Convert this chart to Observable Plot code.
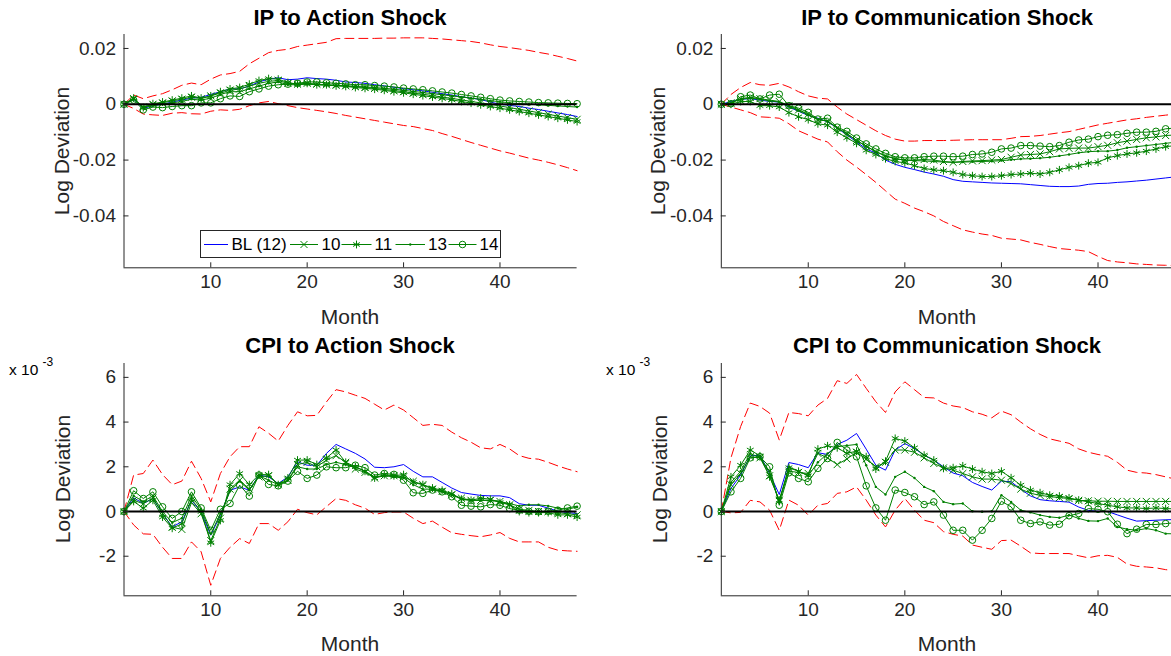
<!DOCTYPE html>
<html><head><meta charset="utf-8">
<script src="https://cdn.jsdelivr.net/npm/d3@7"></script>
<script src="https://cdn.jsdelivr.net/npm/@observablehq/plot@0.6"></script>
<style>
html,body{margin:0;padding:0;background:#fff;}
body{width:1171px;height:656px;overflow:hidden;position:relative;font-family:"Liberation Sans",Arial,Helvetica,sans-serif;}
.abs{position:absolute;white-space:nowrap;line-height:1;}
.title{font-weight:bold;font-size:22px;color:#000;transform:translate(-50%,-50%);}
.xlab{font-size:21px;color:#262626;transform:translate(-50%,-50%);}
.ylab{font-size:21px;color:#262626;transform:translate(-50%,-50%) rotate(-90deg);}
.expo{font-size:15.5px;color:#000;}
.expo sup{font-size:12px;position:relative;top:-3px;}
</style></head><body>
<script>
// ---------- data ----------
const months = [1,2,3,4,5,6,7,8,9,10,11,12,13,14,15,16,17,18,19,20,21,22,23,24,25,26,27,28,29,30,31,32,33,34,35,36,37,38,39,40,41,42,43,44,45,46,47,48];
const seriesLabels = ["BL (12)", "10", "11", "13", "14"];
const panelTitles = ["IP to Action Shock", "IP to Communication Shock", "CPI to Action Shock", "CPI to Communication Shock"];
const xTicks = [10, 20, 30, 40];
const ipYTicks = [-0.04, -0.02, 0, 0.02];
const ipYTickLabels = ["-0.04", "-0.02", "0", "0.02"];
const cpiYTicks = [-2, 0, 2, 4, 6];
const cpiYTickLabels = ["-2", "0", "2", "4", "6"];
const IP_UNIT = 0.01;   // IP values below are read in units of 0.01
const CPI_UNIT = 1;     // CPI values below are in units of 1e-3 (axis shows x 10^-3)

// IP to Action Shock
const ipActUpper = [0,0.33,0.2,0.3,0.38,0.52,0.68,0.76,0.7,0.9,1.05,1.1,1.18,1.45,1.65,1.85,1.93,1.97,2.07,2.12,2.17,2.22,2.35,2.36,2.36,2.36,2.36,2.37,2.37,2.38,2.38,2.38,2.36,2.34,2.31,2.28,2.25,2.2,2.13,2.07,2.03,1.98,1.93,1.86,1.8,1.72,1.64,1.55];
const ipActLower = [0,-0.15,-0.35,-0.38,-0.4,-0.32,-0.3,-0.34,-0.35,-0.25,-0.2,-0.22,-0.18,-0.05,0.05,0.1,0.02,-0.05,-0.12,-0.17,-0.22,-0.27,-0.33,-0.4,-0.46,-0.52,-0.58,-0.64,-0.7,-0.76,-0.8,-0.87,-0.94,-1.05,-1.15,-1.26,-1.37,-1.47,-1.57,-1.67,-1.75,-1.84,-1.93,-2.0,-2.08,-2.17,-2.27,-2.38];
const ipActBL = [0,0.18,-0.15,-0.05,0,0.08,0.15,0.22,0.25,0.35,0.45,0.55,0.55,0.65,0.8,0.9,0.95,0.88,0.9,0.95,0.92,0.9,0.86,0.8,0.78,0.75,0.7,0.66,0.61,0.56,0.52,0.48,0.43,0.38,0.33,0.27,0.22,0.17,0.08,0,-0.04,-0.08,-0.14,-0.19,-0.25,-0.31,-0.37,-0.44];
const ipAct10 = [0,0.2,-0.1,0,0.05,0.12,0.18,0.25,0.2,0.3,0.4,0.5,0.55,0.65,0.75,0.82,0.85,0.75,0.72,0.75,0.72,0.7,0.68,0.66,0.63,0.6,0.57,0.53,0.49,0.45,0.4,0.36,0.31,0.26,0.21,0.16,0.1,0.05,0,-0.06,-0.12,-0.18,-0.24,-0.3,-0.36,-0.42,-0.48,-0.54];
const ipAct11 = [0,0.22,-0.12,0.02,0.08,0.15,0.22,0.3,0.22,0.3,0.45,0.55,0.6,0.72,0.85,0.92,0.9,0.78,0.72,0.75,0.7,0.7,0.66,0.64,0.6,0.57,0.54,0.5,0.45,0.41,0.36,0.31,0.26,0.21,0.16,0.1,0.04,-0.02,-0.08,-0.14,-0.2,-0.26,-0.32,-0.38,-0.44,-0.5,-0.56,-0.62];
const ipAct13 = [0,0.2,-0.12,-0.05,0,0.05,0.1,0.18,0.15,0.22,0.35,0.45,0.45,0.55,0.65,0.75,0.8,0.7,0.7,0.72,0.7,0.68,0.67,0.66,0.64,0.62,0.6,0.57,0.54,0.5,0.46,0.42,0.38,0.34,0.3,0.26,0.22,0.18,0.13,0.09,0.05,0.02,0,-0.02,-0.04,-0.06,-0.08,-0.1];
const ipAct14 = [0,0.15,-0.2,-0.1,-0.12,-0.08,-0.05,-0.05,0.05,0.05,0.2,0.3,0.28,0.45,0.55,0.65,0.7,0.72,0.75,0.8,0.8,0.77,0.75,0.73,0.7,0.7,0.67,0.65,0.62,0.58,0.55,0.52,0.48,0.44,0.4,0.35,0.3,0.25,0.2,0.15,0.12,0.1,0.08,0.06,0.05,0.04,0.03,0.02];

// IP to Communication Shock
const ipComUpper = [0,0.35,0.6,0.78,0.7,0.68,0.75,0.62,0.45,0.3,0.22,0.19,-0.1,-0.35,-0.55,-0.75,-0.95,-1.12,-1.25,-1.32,-1.32,-1.3,-1.3,-1.3,-1.29,-1.28,-1.27,-1.27,-1.27,-1.27,-1.22,-1.16,-1.15,-1.12,-1.07,-1.02,-0.98,-0.9,-0.82,-0.74,-0.68,-0.62,-0.56,-0.52,-0.47,-0.43,-0.39,-0.35];
const ipComLower = [0,-0.1,-0.2,-0.3,-0.45,-0.47,-0.5,-0.7,-0.95,-1.1,-1.25,-1.35,-1.7,-2.0,-2.25,-2.52,-2.8,-3.1,-3.4,-3.55,-3.72,-3.85,-4.0,-4.2,-4.35,-4.5,-4.58,-4.65,-4.7,-4.8,-4.83,-4.86,-4.95,-5.02,-5.1,-5.17,-5.2,-5.23,-5.28,-5.45,-5.6,-5.65,-5.68,-5.72,-5.74,-5.76,-5.77,-5.78];
const ipComBL = [0,0.1,0.18,0.2,0.15,0.1,0.08,-0.1,-0.25,-0.4,-0.5,-0.63,-0.85,-1.1,-1.35,-1.6,-1.75,-2.0,-2.15,-2.26,-2.34,-2.43,-2.5,-2.58,-2.7,-2.76,-2.78,-2.8,-2.82,-2.83,-2.84,-2.85,-2.88,-2.91,-2.94,-2.95,-2.95,-2.93,-2.87,-2.84,-2.83,-2.8,-2.78,-2.75,-2.72,-2.68,-2.64,-2.6];
const ipCom10 = [0,0.05,0.2,0.25,0.2,0.15,0.1,-0.05,-0.2,-0.35,-0.55,-0.6,-0.85,-1.05,-1.3,-1.5,-1.7,-1.85,-1.95,-2.0,-2.0,-1.98,-2.0,-2.05,-2.08,-2.05,-2.03,-2.02,-2.0,-1.98,-1.9,-1.82,-1.8,-1.78,-1.7,-1.6,-1.58,-1.57,-1.57,-1.52,-1.47,-1.38,-1.32,-1.26,-1.2,-1.17,-1.12,-1.1];
const ipCom11 = [0,0,0.1,0.1,-0.05,-0.05,-0.1,-0.3,-0.45,-0.55,-0.7,-0.75,-1.0,-1.2,-1.4,-1.65,-1.8,-1.95,-2.05,-2.1,-2.2,-2.3,-2.35,-2.38,-2.44,-2.52,-2.56,-2.59,-2.59,-2.56,-2.52,-2.5,-2.47,-2.5,-2.44,-2.35,-2.26,-2.2,-2.11,-2.08,-1.92,-1.84,-1.78,-1.74,-1.68,-1.6,-1.52,-1.48];
const ipCom13 = [0,0.05,0.18,0.22,0.18,0.12,0.08,-0.08,-0.22,-0.38,-0.55,-0.6,-0.85,-1.05,-1.3,-1.5,-1.7,-1.85,-1.95,-2.0,-2.02,-2.03,-2.05,-2.07,-2.08,-2.07,-2.06,-2.05,-2.04,-2.02,-1.99,-1.96,-1.95,-1.93,-1.9,-1.85,-1.8,-1.74,-1.7,-1.68,-1.68,-1.64,-1.56,-1.52,-1.48,-1.44,-1.4,-1.36];
const ipCom14 = [0,0.02,0.27,0.33,0.19,0.33,0.36,-0.05,-0.14,-0.29,-0.53,-0.5,-0.82,-0.97,-1.21,-1.42,-1.6,-1.76,-1.88,-1.92,-1.92,-1.88,-1.86,-1.86,-1.88,-1.86,-1.8,-1.78,-1.72,-1.6,-1.57,-1.48,-1.48,-1.5,-1.52,-1.48,-1.36,-1.28,-1.25,-1.16,-1.11,-1.09,-1.04,-1.0,-1.0,-0.97,-0.88,-0.85];

// CPI to Action Shock (x 10^-3)
const cpiActUpper = [0,1.63,1.7,2.3,1.65,1.2,1.36,2.25,1.48,0.43,1.7,2.45,2.9,2.9,3.79,3.5,3.15,3.85,4.46,4.28,4.3,4.9,5.45,5.35,5.2,5.06,4.8,4.54,4.76,4.54,4.2,3.85,3.9,3.85,3.55,3.3,3.1,2.85,2.8,3.0,2.8,2.5,2.38,2.34,2.2,2.04,1.9,1.78];
const cpiActLower = [0,-0.6,-1.0,-1.02,-1.6,-2.1,-2.1,-1.36,-1.8,-3.3,-2.1,-1.6,-1.21,-1.43,-0.54,-0.54,-0.84,-0.46,0.1,-0.05,-0.15,0.22,0.58,0.5,0.3,0.15,-0.13,-0.05,-0.02,-0.02,-0.3,-0.54,-0.43,-0.7,-0.95,-1.02,-1.08,-1.13,-1.05,-0.94,-1.2,-1.36,-1.36,-1.36,-1.6,-1.73,-1.76,-1.78];
const cpiActBL = [0,0.61,0.36,0.58,-0.09,-0.69,-0.46,0.5,-0.02,-1.06,-0.16,0.95,1.1,0.95,1.63,1.55,1.25,1.55,2.22,2.07,2.07,2.6,3.0,2.8,2.6,2.35,1.98,1.96,2.0,2.1,1.8,1.55,1.55,1.3,1.05,0.85,0.78,0.72,0.7,0.7,0.62,0.35,0.28,0.28,0.15,0.02,-0.05,-0.09];
const cpiAct10 = [0,0.5,0.35,0.6,-0.1,-0.7,-0.8,0.4,-0.1,-1.3,-0.3,1.0,1.4,1.0,1.55,1.6,1.2,1.4,2.1,2.2,2.0,2.3,2.5,2.2,1.9,1.75,1.5,1.6,1.6,1.55,1.35,1.2,1.0,0.9,0.75,0.6,0.5,0.5,0.5,0.45,0.3,0.1,0.05,0,0,-0.05,-0.1,-0.15];
const cpiAct11 = [0,0.45,0.15,0.5,-0.25,-0.75,-0.55,0.55,0,-1.4,-0.4,1.2,1.7,1.2,1.65,1.65,1.2,1.5,2.3,2.3,2.1,2.4,2.75,2.2,2.0,1.8,1.5,1.65,1.6,1.65,1.3,1.2,1.05,0.95,0.8,0.55,0.5,0.6,0.55,0.4,0.3,0,-0.05,-0.05,-0.05,-0.15,-0.15,-0.25];
const cpiAct13 = [0,0.7,0.45,0.7,0,-0.5,-0.3,0.7,0.1,-1.0,-0.1,0.9,1.35,0.95,1.6,1.4,1.2,1.4,2.0,1.9,1.9,2.1,2.2,2.1,2.0,1.8,1.55,1.6,1.55,1.5,1.2,1.0,1.0,0.9,0.75,0.55,0.5,0.5,0.5,0.45,0.35,0.25,0.3,0.3,0.25,0.15,0.1,0.2];
const cpiAct14 = [0,0.93,0.58,0.88,0.21,-0.31,0,0.88,0.16,-0.84,0.1,0.36,1.18,0.69,1.63,1.21,1.15,1.36,1.8,1.48,1.63,2.0,1.96,1.96,2.07,1.96,1.63,1.7,1.66,1.4,0.84,0.81,0.96,0.88,0.66,0.28,0.24,0.21,0.31,0.28,0.13,0.06,0.01,-0.01,0.01,0.06,0.16,0.24];

// CPI to Communication Shock (x 10^-3)
const cpiComUpper = [0,2.4,3.8,4.85,4.7,4.4,3.2,4.43,4.38,4.28,4.76,5.06,5.85,5.73,6.13,5.51,4.91,4.43,5.35,5.8,5.45,5.1,5.08,4.85,4.72,4.65,4.46,4.35,4.19,4.49,4.33,4.0,3.7,3.45,3.25,3.15,3.05,2.8,2.65,2.55,2.47,2.2,1.85,1.75,1.72,1.65,1.55,1.45];
const cpiComLower = [0,-0.06,-0.04,0.5,0.43,0.06,-0.84,0.51,0.28,-0.16,0.28,0.36,0.81,0.88,1.1,0.51,-0.16,-0.69,0.06,0.58,0.06,-0.39,-0.5,-0.9,-1.02,-1.1,-1.5,-1.6,-1.69,-1.3,-1.28,-1.55,-1.85,-1.88,-1.88,-1.88,-1.88,-1.98,-2.07,-1.98,-1.96,-2.05,-2.35,-2.45,-2.48,-2.52,-2.6,-2.65];
const cpiComBL = [0,1.03,1.63,2.49,2.52,1.7,0.76,2.19,2.1,1.96,2.63,2.55,3.0,3.19,3.49,2.79,2.07,1.85,2.75,3.04,2.82,2.52,2.3,2.0,1.72,1.6,1.3,1.12,0.96,1.36,1.33,1.0,0.7,0.53,0.48,0.45,0.42,0.2,0.05,0.01,0,-0.15,-0.3,-0.43,-0.41,-0.39,-0.37,-0.36];
const cpiCom10 = [0,1.2,1.7,2.45,2.4,1.6,0.5,1.8,1.75,1.7,2.6,2.4,2.1,2.35,2.65,2.35,2.0,2.2,2.75,2.75,2.65,2.4,2.15,1.95,1.85,1.7,1.55,1.45,1.45,1.4,1.25,1.0,0.82,0.72,0.67,0.62,0.58,0.5,0.48,0.46,0.46,0.45,0.45,0.45,0.45,0.45,0.45,0.45];
const cpiCom11 = [0,1.55,2.07,2.75,2.49,1.55,0.51,1.96,1.8,1.6,2.79,2.94,2.85,2.6,2.7,2.45,1.9,2.25,3.27,3.15,2.85,2.52,2.3,1.93,1.96,2.04,1.9,1.78,1.7,1.8,1.51,1.18,0.96,0.84,0.73,0.69,0.61,0.51,0.43,0.36,0.28,0.21,0.16,0.16,0.13,0.16,0.13,0.12];
const cpiCom13 = [0,1.3,1.8,2.6,2.4,1.8,0.4,2.0,1.8,1.6,2.2,2.6,2.9,2.95,3.0,2.07,1.1,0.76,1.55,1.78,1.5,1.1,0.91,0.43,0.33,0.36,0.01,-0.01,0.01,0.73,0.43,0.06,-0.04,-0.16,-0.24,-0.28,-0.16,-0.31,-0.42,-0.43,-0.31,-0.69,-0.79,-0.84,-0.76,-0.84,-0.99,-1.0];
const cpiCom14 = [0,0.88,1.48,2.4,2.45,2.0,0.28,1.73,1.48,1.33,1.93,2.37,3.09,2.75,2.45,1.15,0.16,-0.39,0.96,0.85,0.66,0.31,0.43,-0.16,-0.84,-0.84,-1.28,-0.84,-0.31,0.46,0.21,-0.39,-0.54,-0.46,-0.61,-0.57,-0.19,-0.09,0.13,0.1,-0.01,-0.57,-0.99,-0.79,-0.58,-0.58,-0.54,-0.5];

// ---------- drawing ----------
const AX = "#262626";
const GREEN = "#008000";
const FONT = "'Liberation Sans', Arial, Helvetica, sans-serif";
const greenStyles = [
  {key: "s10", symbol: "times", r: 3.3, fill: "none", stroke: GREEN},
  {key: "s11", symbol: "asterisk", r: 3.7, fill: "none", stroke: GREEN},
  {key: "s13", symbol: "circle", r: 1.2, fill: GREEN, stroke: "none"},
  {key: "s14", symbol: "circle", r: 3.3, fill: "none", stroke: GREEN}
];

function addDiv(cls, html, x, y) {
  const d = document.createElement("div");
  d.className = "abs " + cls;
  d.innerHTML = html;
  d.style.left = x + "px";
  d.style.top = y + "px";
  document.body.appendChild(d);
  return d;
}

function panel(o) {
  const rows = arr => months.map((m, i) => ({m, v: arr[i] * o.unit}));
  const s = o.series;
  const marks = [
    Plot.line(rows(s.upper), {x: "m", y: "v", stroke: "#ff0000", strokeWidth: 1, strokeDasharray: "9,5"}),
    Plot.line(rows(s.lower), {x: "m", y: "v", stroke: "#ff0000", strokeWidth: 1, strokeDasharray: "9,5"}),
    Plot.line(rows(s.bl), {x: "m", y: "v", stroke: "#0000ff", strokeWidth: 1})
  ];
  for (const g of greenStyles) {
    const r = rows(s[g.key]);
    marks.push(Plot.line(r, {x: "m", y: "v", stroke: GREEN, strokeWidth: 1}));
    marks.push(Plot.dot(r, {x: "m", y: "v", symbol: g.symbol, r: g.r, fill: g.fill, stroke: g.stroke, strokeWidth: 1}));
  }
  marks.push(Plot.ruleY([0], {stroke: "#000", strokeWidth: 2}));
  marks.push(Plot.ruleX([1], {stroke: AX, strokeWidth: 1}));
  marks.push(Plot.ruleY([o.yDomain[0]], {stroke: AX, strokeWidth: 1}));
  marks.push(Plot.axisY(o.yTicks, {anchor: "left", tickSize: -5, fill: "none", stroke: AX, label: null}));
  marks.push(Plot.axisY(o.yTicks, {anchor: "left", tickSize: 0, tickPadding: 8, fontSize: 19, color: AX, label: null,
    tickFormat: d => o.yTickLabels[o.yTicks.indexOf(d)]}));
  marks.push(Plot.axisX(xTicks, {anchor: "bottom", tickSize: -5, fill: "none", stroke: AX, label: null}));
  marks.push(Plot.axisX(xTicks, {anchor: "bottom", tickSize: 0, tickPadding: 7, fontSize: 19, color: AX, label: null,
    tickFormat: d => String(d)}));
  const svg = Plot.plot({
    width: 600, height: 300,
    marginLeft: o.mL, marginRight: o.mR, marginTop: o.mT, marginBottom: o.mB,
    x: {domain: [1, 48]},
    y: {domain: o.yDomain},
    style: {fontFamily: FONT, background: "transparent", overflow: "visible"},
    marks
  });
  svg.style.position = "absolute";
  svg.style.left = o.left + "px";
  svg.style.top = o.top + "px";
  document.body.appendChild(svg);
}

const ipDomain = [-0.0586, 0.025];
const cpiDomain = [-3.77, 6.62];

panel({left: 0, top: 0, mL: 123.5, mR: 23.4, mT: 34, mB: 32.7, unit: IP_UNIT, yDomain: ipDomain, yTicks: ipYTicks, yTickLabels: ipYTickLabels,
  series: {upper: ipActUpper, lower: ipActLower, bl: ipActBL, s10: ipAct10, s11: ipAct11, s13: ipAct13, s14: ipAct14}});
panel({left: 600, top: 0, mL: 120.8, mR: 25.2, mT: 34, mB: 32.7, unit: IP_UNIT, yDomain: ipDomain, yTicks: ipYTicks, yTickLabels: ipYTickLabels,
  series: {upper: ipComUpper, lower: ipComLower, bl: ipComBL, s10: ipCom10, s11: ipCom11, s13: ipCom13, s14: ipCom14}});
panel({left: 0, top: 330, mL: 123.5, mR: 23.4, mT: 33, mB: 34.7, unit: CPI_UNIT, yDomain: cpiDomain, yTicks: cpiYTicks, yTickLabels: cpiYTickLabels,
  series: {upper: cpiActUpper, lower: cpiActLower, bl: cpiActBL, s10: cpiAct10, s11: cpiAct11, s13: cpiAct13, s14: cpiAct14}});
panel({left: 600, top: 330, mL: 120.8, mR: 25.2, mT: 33, mB: 34.7, unit: CPI_UNIT, yDomain: cpiDomain, yTicks: cpiYTicks, yTickLabels: cpiYTickLabels,
  series: {upper: cpiComUpper, lower: cpiComLower, bl: cpiComBL, s10: cpiCom10, s11: cpiCom11, s13: cpiCom13, s14: cpiCom14}});

// titles and axis labels
addDiv("title", panelTitles[0], 350, 18);
addDiv("title", panelTitles[1], 947, 18);
addDiv("title", panelTitles[2], 350, 346);
addDiv("title", panelTitles[3], 947, 346);
addDiv("xlab", "Month", 350, 316);
addDiv("xlab", "Month", 947, 316);
addDiv("xlab", "Month", 350, 643);
addDiv("xlab", "Month", 947, 643);
addDiv("ylab", "Log Deviation", 61, 151);
addDiv("ylab", "Log Deviation", 657, 151);
addDiv("ylab", "Log Deviation", 62, 479);
addDiv("ylab", "Log Deviation", 659, 479);
addDiv("expo", "x 10 <sup>-3</sup>", 9, 359);
addDiv("expo", "x 10 <sup>-3</sup>", 606, 359);

// legend (top-left panel)
(function legend() {
  const lw = 301, lh = 28;
  const svg = d3.create("svg").attr("width", lw).attr("height", lh)
    .style("position", "absolute").style("left", "200px").style("top", "230px")
    .style("font-family", FONT).style("font-size", "17px");
  svg.append("rect").attr("x", 0.5).attr("y", 0.5).attr("width", lw - 1).attr("height", lh - 1)
    .attr("fill", "#fff").attr("stroke", AX).attr("stroke-width", 1);
  const cy = 14.5;
  const entries = [
    {x0: 4, x1: 28, tx: 31.5, color: "#0000ff", sym: null},
    {x0: 90, x1: 118, tx: 121.5, color: GREEN, sym: greenStyles[0]},
    {x0: 141.5, x1: 171.5, tx: 174.5, color: GREEN, sym: greenStyles[1]},
    {x0: 195.5, x1: 225, tx: 228, color: GREEN, sym: greenStyles[2]},
    {x0: 248.5, x1: 276.5, tx: 279.5, color: GREEN, sym: greenStyles[3]}
  ];
  const symMap = {times: d3.symbolTimes, asterisk: d3.symbolAsterisk, circle: d3.symbolCircle};
  entries.forEach((e, i) => {
    svg.append("line").attr("x1", e.x0).attr("x2", e.x1).attr("y1", cy).attr("y2", cy)
      .attr("stroke", e.color).attr("stroke-width", 1);
    if (e.sym) {
      svg.append("path").attr("d", d3.symbol(symMap[e.sym.symbol], Math.PI * e.sym.r * e.sym.r)())
        .attr("transform", `translate(${(e.x0 + e.x1) / 2},${cy})`)
        .attr("fill", e.sym.fill).attr("stroke", e.sym.stroke).attr("stroke-width", 1);
    }
    svg.append("text").attr("x", e.tx).attr("y", cy).attr("dy", "0.35em").attr("fill", "#000")
      .text(seriesLabels[i]);
  });
  document.body.appendChild(svg.node());
})();
</script>
</body></html>
